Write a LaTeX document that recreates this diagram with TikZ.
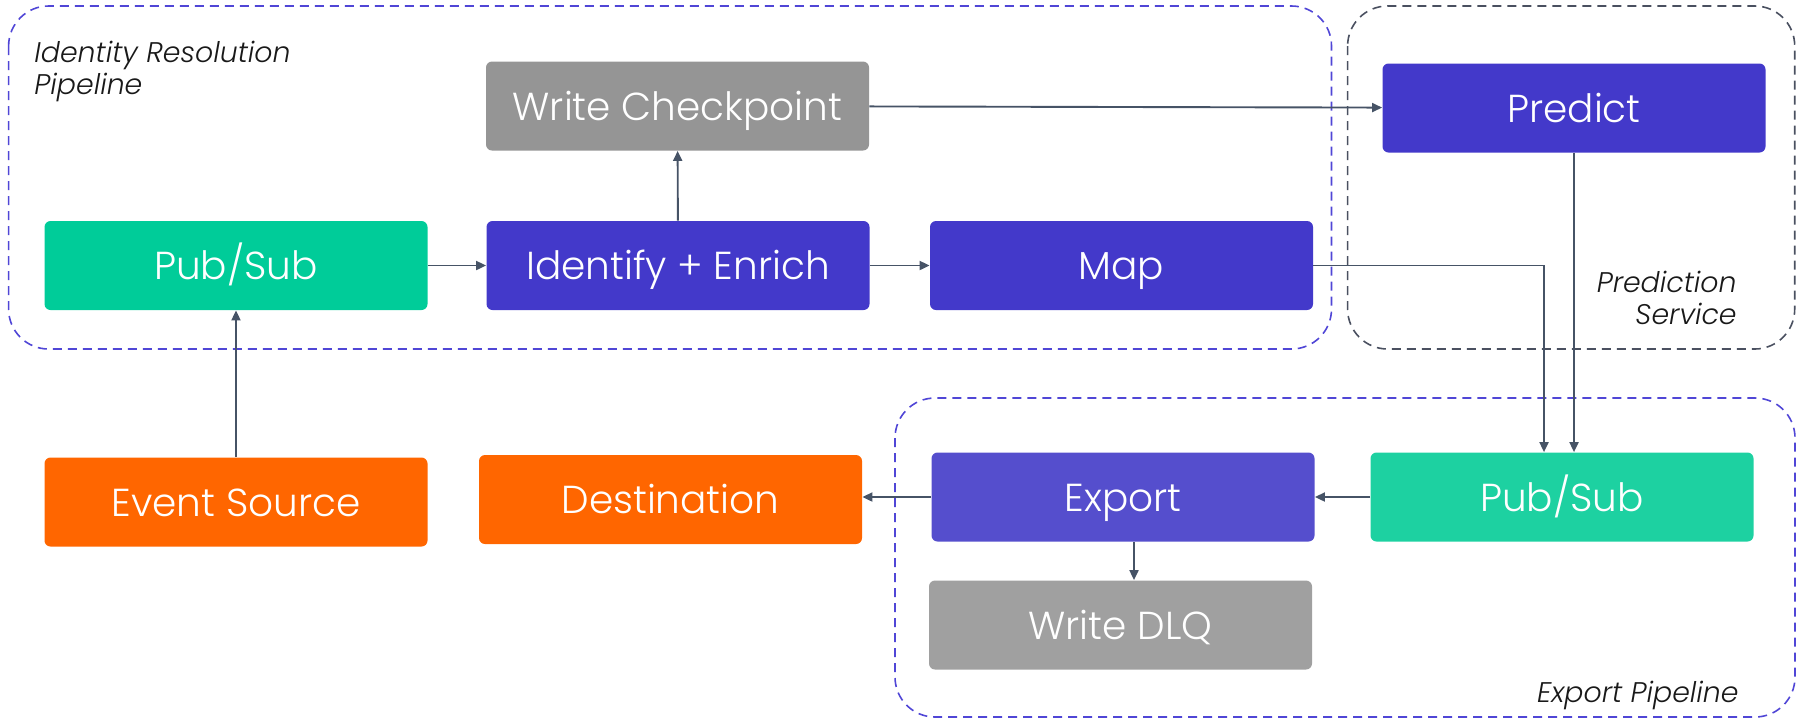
\documentclass[tikz,border=0pt]{standalone}
\usepackage{fontspec}
\setmainfont{Poppins}[UprightFont=*-Light, ItalicFont=*-LightItalic]
\usetikzlibrary{arrows.meta,calc}

\definecolor{teal1}{RGB}{0,204,153}
\definecolor{teal2}{RGB}{29,209,161}
\definecolor{violet1}{RGB}{67,57,202}
\definecolor{violet2}{RGB}{85,78,205}
\definecolor{grey1}{RGB}{149,149,149}
\definecolor{grey2}{RGB}{160,160,160}
\definecolor{orange1}{RGB}{255,102,0}
\definecolor{wire}{RGB}{70,83,102}
\definecolor{groupviolet}{RGB}{80,70,214}
\definecolor{groupgrey}{RGB}{74,80,96}
\definecolor{labeltext}{RGB}{25,25,25}

\tikzset{
  % text height minus depth sets the baseline below the box centre
  box/.style={rectangle, rounded corners=3pt, inner sep=0pt,
    minimum width=191.5pt, minimum height=44.5pt, text=white,
    text height=17.5pt, text depth=3.5pt,
    font=\fontsize{19.5}{21}\selectfont},
  arr/.style={draw=wire, line width=0.95pt,
    -{Triangle[length=5pt,width=4.5pt]}},
  group/.style={dash pattern=on 4.5pt off 3pt, line width=0.8pt,
    rounded corners=20pt},
  grouplabel/.style={inner sep=0pt, text=labeltext,
    font=\fontsize{14.2}{16}\selectfont\itshape}
}

\begin{document}
\begin{tikzpicture}[x=0.5pt, y=-0.5pt]
\useasboundingbox (0,0) rectangle (1802,720);

% pipeline groups
\draw[group, draw=groupviolet] (8.6,6) rectangle (1331.5,349);
\draw[group, draw=groupgrey] (1347.6,6) rectangle (1794.7,349);
\draw[group, draw=groupviolet] (895,398) rectangle (1795,717);

\node[grouplabel, anchor=north west, align=left] (lid) at (34,41)
  {Identity Resolution\\Pipeline};
\node[grouplabel, anchor=north east, align=right] (lps) at (1737,271)
  {Prediction\\Service};
\node[grouplabel, anchor=base east] (lex) at (1739,702) {Export Pipeline};

% processing steps
\node[box, fill=grey1] (wc) at (677.5,106) {Write Checkpoint};
\node[box, fill=violet1] (pred) at (1574,108) {Predict};
\node[box, fill=teal1] (ps1) at (236,265.5) {Pub/Sub};
\node[box, fill=violet1] (ie) at (678,265.5) {Identify + Enrich};
\node[box, fill=violet1] (map) at (1121.5,265.5) {Map};
\node[box, fill=orange1] (es) at (236,502) {Event Source};
\node[box, fill=orange1] (dest) at (670.5,499.5) {Destination};
\node[box, fill=violet2] (exp) at (1123,497) {Export};
\node[box, fill=teal2] (ps2) at (1562,497) {Pub/Sub};
\node[box, fill=grey2] (dlq) at (1120.5,625) {Write DLQ};

% connectors
\draw[arr] (es) -- (ps1);
\draw[arr] (ps1) -- (ie);
\draw[arr] (ie) -- (map);
\draw[arr] (ie) -- (wc);
\draw[arr] (wc) -- (pred);
\draw[arr] (map.east) -| ([xshift=-9pt]ps2.north);
\draw[arr] (pred.south) -- (pred.south |- ps2.north);
\draw[arr] (ps2.west) -- (exp.east);
\draw[arr] (exp.west) -- (exp.west -| dest.east);
\draw[arr] ([xshift=5.5pt]exp.south) -- ([xshift=5.5pt]exp.south |- dlq.north);
\end{tikzpicture}
\end{document}
